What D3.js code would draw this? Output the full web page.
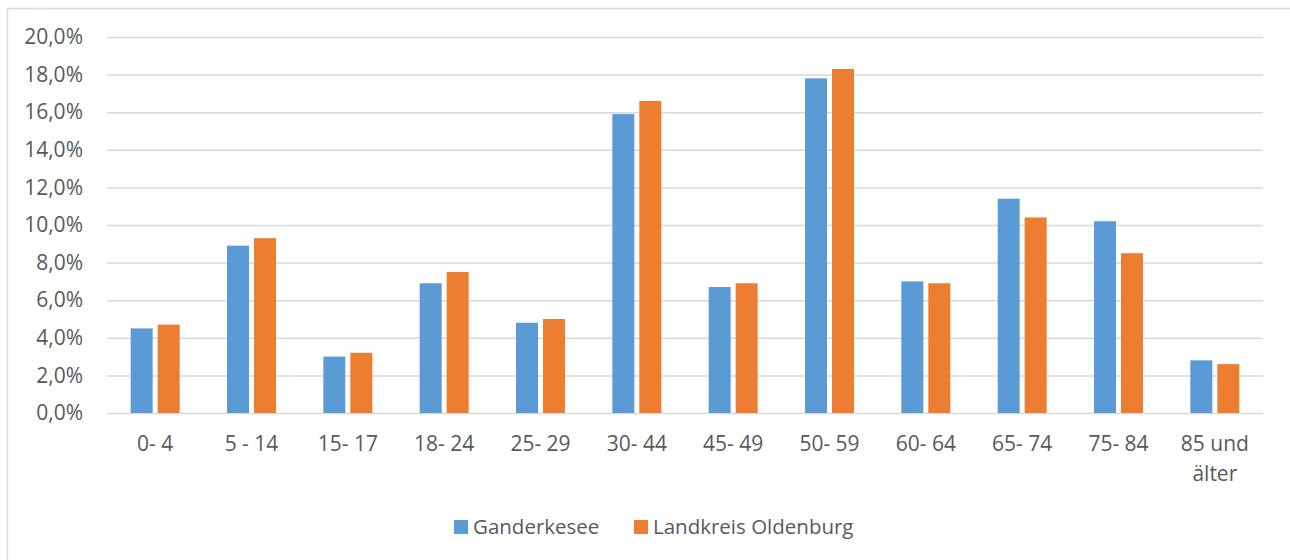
<!DOCTYPE html>
<html>
<head>
<meta charset="utf-8">
<script src="https://cdn.jsdelivr.net/npm/d3@7"></script>
<style>
  body { margin: 0; background: #fff; }
  text { font-family: "Open Sans", sans-serif; fill: #595959; }
</style>
</head>
<body>
<div id="graph"></div>
<script>
// age groups and shares (%)
var groups = ["0- 4", "5 - 14", "15- 17", "18- 24", "25- 29", "30- 44", "45- 49", "50- 59", "60- 64", "65- 74", "75- 84", "85 und älter"];
var ganderkesee = [4.5, 8.9, 3.0, 6.9, 4.8, 15.9, 6.7, 17.8, 7.0, 11.4, 10.2, 2.8];
var oldenburg   = [4.7, 9.3, 3.2, 7.5, 5.0, 16.6, 6.9, 18.3, 6.9, 10.4, 8.5, 2.6];
var seriesNames = ["Ganderkesee", "Landkreis Oldenburg"];
var colors = ["#5B9BD5", "#ED7D31"];
var yTicks = [0, 2, 4, 6, 8, 10, 12, 14, 16, 18, 20];

var W = 1290, H = 560;
var margin = { top: 37, right: 27, bottom: 147, left: 107 },
    width = W - margin.left - margin.right,
    height = H - margin.top - margin.bottom;

var svg = d3.select("#graph").append("svg")
    .attr("width", W)
    .attr("height", H);

// outer chart border
svg.append("rect")
    .attr("x", 7.5).attr("y", 8.5)
    .attr("width", W).attr("height", H)
    .style("fill", "none")
    .style("stroke", "#D9D9D9")
    .style("stroke-width", 1.5);

var g = svg.append("g")
    .attr("transform", "translate(" + margin.left + "," + margin.top + ")");

var y = d3.scaleLinear().domain([0, 20]).range([height, 0]);
var x = d3.scaleBand().domain(groups).range([0, width]);
var mid = x.bandwidth() / 2;
var xs = d3.scaleBand().domain([0, 1]).range([mid - 24.5, mid + 24.5]).paddingInner(5 / 27);

// gridlines + y labels
var yAxis = g.append("g")
    .call(d3.axisLeft(y).tickValues(yTicks).tickSize(-width)
        .tickFormat(function(d) { return d3.format(".1f")(d).replace(".", ",") + "%"; }));
yAxis.select(".domain").remove();
yAxis.selectAll("line").style("stroke", "#D9D9D9").style("stroke-width", 1.5);
yAxis.selectAll("text")
    .attr("x", -24)
    .style("font-size", "21px")
    .style("fill", "#595959")
    .style("font-family", "'Open Sans', sans-serif");

// bars
var rows = groups.map(function(k, i) { return { key: k, vals: [ganderkesee[i], oldenburg[i]] }; });
var grp = g.selectAll(".grp")
    .data(rows)
    .enter().append("g")
    .attr("transform", function(d) { return "translate(" + x(d.key) + ",0)"; });

grp.selectAll("rect")
    .data(function(d) { return d.vals.map(function(v, j) { return { j: j, v: v }; }); })
    .enter().append("rect")
    .attr("x", function(d) { return xs(d.j); })
    .attr("y", function(d) { return y(d.v); })
    .attr("width", xs.bandwidth())
    .attr("height", function(d) { return height - y(d.v); })
    .style("fill", function(d) { return colors[d.j]; });

// x labels (wrap "85 und älter")
var xLab = g.append("g").attr("transform", "translate(0," + height + ")");
groups.forEach(function(k) {
    var lines = k === "85 und älter" ? ["85 und", "älter"] : [k];
    var t = xLab.append("text")
        .attr("x", x(k) + mid)
        .attr("y", 38)
        .attr("text-anchor", "middle")
        .style("font-size", "21px");
    lines.forEach(function(l, i) {
        t.append("tspan")
            .attr("x", x(k) + mid)
            .attr("dy", i === 0 ? 0 : 30)
            .text(l);
    });
});

// legend
var legendX = [454, 634];
seriesNames.forEach(function(n, i) {
    svg.append("rect")
        .attr("x", legendX[i]).attr("y", 520)
        .attr("width", 14).attr("height", 14)
        .style("fill", colors[i]);
    svg.append("text")
        .attr("x", legendX[i] + 19).attr("y", 534)
        .style("font-size", "20.5px")
        .text(n);
});
</script>
</body>
</html>
